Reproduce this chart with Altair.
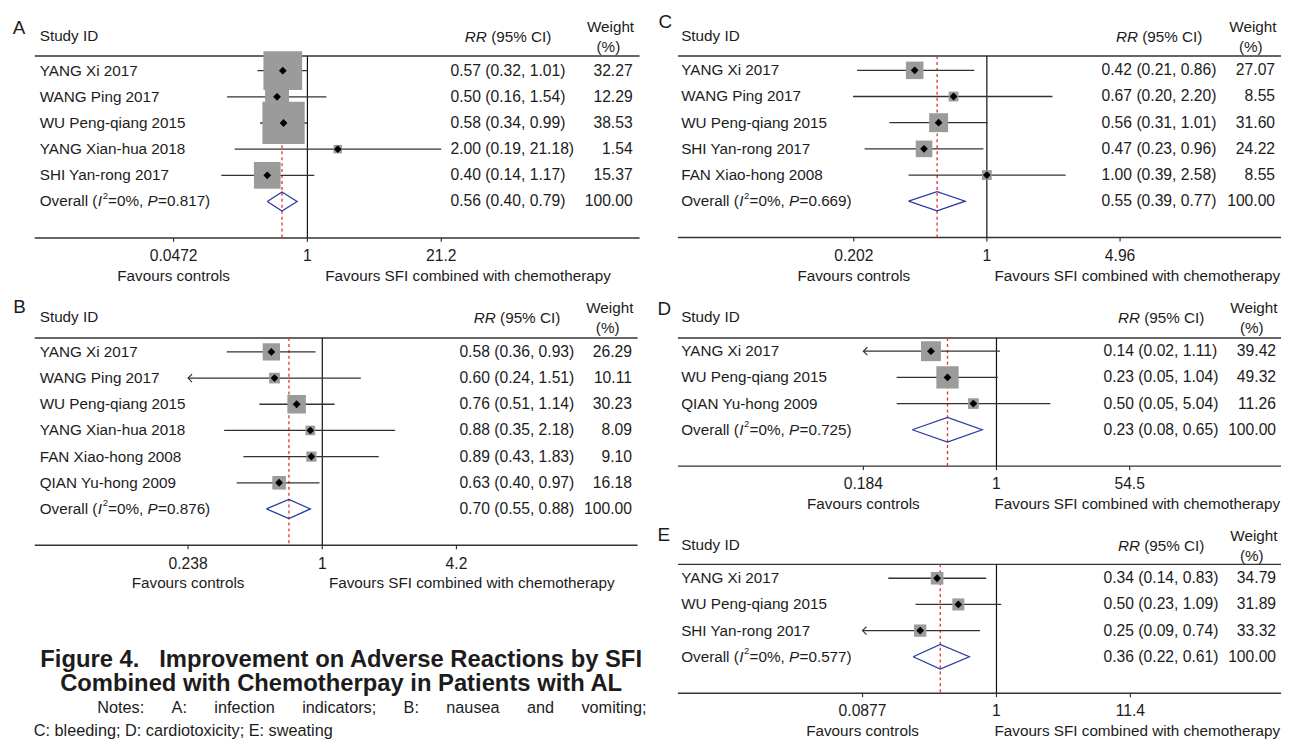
import math
import altair as alt
import pandas as pd

# ------------------------------------------------------------------ data
A_studies = ["YANG Xi 2017", "WANG Ping 2017", "WU Peng-qiang 2015", "YANG Xian-hua 2018", "SHI Yan-rong 2017"]
A_rr = [0.57, 0.50, 0.58, 2.00, 0.40]
A_lo = [0.32, 0.16, 0.34, 0.19, 0.14]
A_hi = [1.01, 1.54, 0.99, 21.18, 1.17]
A_weight = [32.27, 12.29, 38.53, 1.54, 15.37]
A_arrow = [False, False, False, False, False]
A_overall = [0.56, 0.40, 0.79]
A_p = "0.817"
A_ticks = [0.0472, 1, 21.2]
A_tick_labels = ["0.0472", "1", "21.2"]

B_studies = ["YANG Xi 2017", "WANG Ping 2017", "WU Peng-qiang 2015", "YANG Xian-hua 2018",
             "FAN Xiao-hong 2008", "QIAN Yu-hong 2009"]
B_rr = [0.58, 0.60, 0.76, 0.88, 0.89, 0.63]
B_lo = [0.36, 0.24, 0.51, 0.35, 0.43, 0.40]
B_hi = [0.93, 1.51, 1.14, 2.18, 1.83, 0.97]
B_weight = [26.29, 10.11, 30.23, 8.09, 9.10, 16.18]
B_arrow = [False, True, False, False, False, False]
B_overall = [0.70, 0.55, 0.88]
B_p = "0.876"
B_ticks = [0.238, 1, 4.2]
B_tick_labels = ["0.238", "1", "4.2"]

C_studies = ["YANG Xi 2017", "WANG Ping 2017", "WU Peng-qiang 2015", "SHI Yan-rong 2017", "FAN Xiao-hong 2008"]
C_rr = [0.42, 0.67, 0.56, 0.47, 1.00]
C_lo = [0.21, 0.20, 0.31, 0.23, 0.39]
C_hi = [0.86, 2.20, 1.01, 0.96, 2.58]
C_weight = [27.07, 8.55, 31.60, 24.22, 8.55]
C_arrow = [False, False, False, False, False]
C_overall = [0.55, 0.39, 0.77]
C_p = "0.669"
C_ticks = [0.202, 1, 4.96]
C_tick_labels = ["0.202", "1", "4.96"]

D_studies = ["YANG Xi 2017", "WU Peng-qiang 2015", "QIAN Yu-hong 2009"]
D_rr = [0.14, 0.23, 0.50]
D_lo = [0.02, 0.05, 0.05]
D_hi = [1.11, 1.04, 5.04]
D_weight = [39.42, 49.32, 11.26]
D_arrow = [True, False, False]
D_overall = [0.23, 0.08, 0.65]
D_p = "0.725"
D_ticks = [0.0184, 1, 54.5]
D_tick_labels = ["0.184", "1", "54.5"]

E_studies = ["YANG Xi 2017", "WU Peng-qiang 2015", "SHI Yan-rong 2017"]
E_rr = [0.34, 0.50, 0.25]
E_lo = [0.14, 0.23, 0.09]
E_hi = [0.83, 1.09, 0.74]
E_weight = [34.79, 31.89, 33.32]
E_arrow = [False, False, True]
E_overall = [0.36, 0.22, 0.61]
E_p = "0.577"
E_ticks = [0.0877, 1, 11.4]
E_tick_labels = ["0.0877", "1", "11.4"]

FAV_LEFT = "Favours controls"
FAV_RIGHT = "Favours SFI combined with chemotherapy"
CAPTION_1 = "Figure 4.\u00a0\u00a0\u00a0Improvement on Adverse Reactions by SFI"
CAPTION_2 = "Combined with Chemotherpay in Patients with AL"
NOTES_1 = "Notes: A: infection indicators; B: nausea and vomiting;"
NOTES_2 = "C: bleeding; D: cardiotoxicity; E: sweating"

# ------------------------------------------------------------------ style / layout
FONT = "Liberation Sans, Arial, Helvetica, sans-serif"
FS = 15.4      # names, headers
FSN = 15.8     # numeric columns
TXT = "#1c1c1c"
LINE = "#333333"
SQ = "#9b9b9b"
BLUE = "#2b3a9e"
RED = "#e3302b"
ROW_H = 26.4
ARROW_PATH = "M1,-1L0,0L1,1"

# page-space geometry of each panel (x0, y0, width, height) and its parts
GEOM = {
    "A": dict(box=(8, 8, 642, 280), X1=310, s=44.2, axL=35, axR=645, R0=68, studyY=33.3, topY=53.3,
              letter=(12.7, 25), nameX=40, valX=454.3, wtR=638, favR=328, k=6.87, diaH=19.3),
    "B": dict(box=(8, 288, 642, 307), X1=325, s=94.3, axL=35, axR=643, R0=351.7, studyY=316.7, topY=337.7,
              letter=(13.3, 306.7), nameX=40, valX=463.3, wtR=637.3, favR=331.7, k=3.4, diaH=19.3),
    "C": dict(box=(650, 8, 640, 280), X1=993.3, s=83.9, axL=681.7, axR=1290, R0=67.7, studyY=33.3, topY=53.3,
              letter=(662, 19), nameX=685, valX=1109, wtR=1284, favR=1001, k=3.4, diaH=19.3),
    "D": dict(box=(650, 288, 640, 230), X1=1003, s=33.6, axL=681.7, axR=1290, R0=351, studyY=316.7, topY=337.7,
              letter=(661, 308), nameX=685, valX=1111, wtR=1285, favR=1001, k=3.2, diaH=25),
    "E": dict(box=(650, 518, 640, 226), X1=1003, s=55.5, axL=681.7, axR=1290, R0=580, studyY=546.7, topY=566,
              letter=(661, 536.7), nameX=685, valX=1111, wtR=1285, favR=1001, k=2.15, diaH=25),
}

ARIAL = {' ': 278, '(': 333, ')': 333, '%': 889, ',': 278, '.': 278, '=': 584, ':': 278, ';': 278,
         'a': 556, 'b': 556, 'c': 500, 'd': 556, 'e': 556, 'f': 278, 'g': 556, 'h': 556, 'i': 222,
         'j': 222, 'k': 500, 'l': 222, 'm': 833, 'n': 556, 'o': 556, 'p': 556, 'q': 556, 'r': 333,
         's': 500, 't': 278, 'u': 556, 'v': 500, 'w': 722, 'x': 500, 'y': 500, 'z': 500,
         'A': 667, 'B': 667, 'C': 722, 'D': 722, 'E': 667, 'F': 611, 'I': 278, 'N': 722, 'O': 778,
         'P': 667, 'R': 722, 'S': 667, 'W': 944}


def tw(s, size=FS):
    return sum(ARIAL.get(c, 556) for c in s) * size / 1000.0


ONE = pd.DataFrame({"k": [0]})


def txt(text, x, y, align="left", size=FS, style="normal", weight="normal", dy=0, color=TXT, **kw):
    return alt.Chart(pd.DataFrame({"t": [text]})).mark_text(
        align=align, baseline="middle", fontSize=size, fontStyle=style, fontWeight=weight,
        font=FONT, color=color, dy=dy, **kw
    ).encode(x=alt.value(x), y=alt.value(y), text="t:N")


def panel(letter, studies, rr, lo, hi, weight, arrow, overall, p, ticks, tick_labels):
    g = GEOM[letter]
    x0, y0, Wd, Ht = g["box"]
    X1 = g["X1"] - x0
    s = g["s"]
    R0 = g["R0"] - y0
    n = len(studies)
    studyY = g["studyY"] - y0
    topY = g["topY"] - y0
    axisY = R0 + n * ROW_H + 36.7
    axL, axR = g["axL"] - x0, g["axR"] - x0
    nameX, valX, wtR, favR = g["nameX"] - x0, g["valX"] - x0, g["wtR"] - x0, g["favR"] - x0

    xs = alt.Scale(type="log", domain=[math.exp((0 - X1) / s), math.exp((Wd - X1) / s)], nice=False)
    ys = alt.Scale(domain=[(0 - R0) / ROW_H, (Ht - R0) / ROW_H], reverse=True, nice=False, zero=False)

    df = pd.DataFrame({"row": list(range(n)), "study": studies, "rr": rr, "lo": lo, "hi": hi,
                       "weight": weight, "arrow": arrow})
    df["lo_draw"] = [ticks[0] if a else l for a, l in zip(arrow, lo)]
    tab = pd.DataFrame({
        "row": list(range(n + 1)),
        "label": [f"{r:.2f} ({l:.2f}, {h:.2f})" for r, l, h in zip(rr + [overall[0]], lo + [overall[1]], hi + [overall[2]])],
        "wlabel": [f"{w:.2f}" for w in weight] + ["100.00"],
    })

    X = lambda f: alt.X(f, scale=xs, axis=None)
    Y = lambda f: alt.Y(f, scale=ys, axis=None)

    layers = []
    layers.append(alt.Chart(ONE).mark_rule(color=LINE, strokeWidth=1.5).encode(
        x=alt.value(axL), x2=alt.value(axR), y=alt.value(topY)))
    layers.append(alt.Chart(ONE).mark_rule(color=LINE, strokeWidth=1.5).encode(
        x=alt.value(axL), x2=alt.value(axR), y=alt.value(axisY)))
    layers.append(alt.Chart(pd.DataFrame({"v": [overall[0]]})).mark_rule(
        color=RED, strokeWidth=1.3, strokeDash=[3, 3]).encode(x=X("v:Q"), y=alt.value(topY), y2=alt.value(axisY)))
    layers.append(alt.Chart(pd.DataFrame({"v": [1.0]})).mark_rule(color="#111111", strokeWidth=1.2).encode(
        x=X("v:Q"), y=alt.value(topY), y2=alt.value(axisY)))
    tdf = pd.DataFrame({"v": ticks, "lab": tick_labels})
    layers.append(alt.Chart(tdf).mark_rule(color=LINE, strokeWidth=1.2).encode(
        x=X("v:Q"), y=alt.value(axisY), y2=alt.value(axisY + 4)))
    layers.append(alt.Chart(tdf).mark_text(font=FONT, fontSize=FSN, baseline="middle", align="center", color=TXT).encode(
        x=X("v:Q"), y=alt.value(axisY + 18.5), text="lab:N"))
    layers.append(alt.Chart(pd.DataFrame({"v": [ticks[0]], "t": [FAV_LEFT]})).mark_text(
        font=FONT, fontSize=FS, baseline="middle", align="center", color=TXT).encode(
        x=X("v:Q"), y=alt.value(axisY + 38.5), text="t:N"))
    layers.append(txt(FAV_RIGHT, favR, axisY + 38.5))
    base = alt.Chart(df)
    layers.append(base.mark_rule(color=LINE, strokeWidth=1.3).encode(x=X("lo_draw:Q"), x2="hi:Q", y=Y("row:Q")))
    if any(arrow):
        layers.append(alt.Chart(df[df["arrow"]]).mark_point(
            shape=ARROW_PATH, filled=False, color=LINE, strokeWidth=1.2, size=64, opacity=1).encode(
            x=X("lo_draw:Q"), y=Y("row:Q")))
    k = g["k"]
    layers.append(base.mark_point(shape="square", filled=True, color=SQ, opacity=1, strokeWidth=0).encode(
        x=X("rr:Q"), y=Y("row:Q"),
        size=alt.Size("weight:Q", scale=alt.Scale(domain=[0, 100], range=[0, 100 * k * k]), legend=None)))
    layers.append(base.mark_point(shape="diamond", filled=True, color="#000000", size=62, opacity=1).encode(
        x=X("rr:Q"), y=Y("row:Q")))
    hh = g["diaH"] / 2 / ROW_H
    dd = pd.DataFrame({"x": [overall[1], overall[0], overall[2], overall[0], overall[1]],
                       "row": [n, n - hh, n, n + hh, n], "o": [0, 1, 2, 3, 4]})
    layers.append(alt.Chart(dd).mark_line(color=BLUE, strokeWidth=1.3).encode(
        x=X("x:Q"), y=Y("row:Q"), order="o:Q"))
    layers.append(base.mark_text(font=FONT, fontSize=FS, align="left", baseline="middle", color=TXT).encode(
        x=alt.value(nameX), y=Y("row:Q"), text="study:N"))
    tb = alt.Chart(tab)
    layers.append(tb.mark_text(font=FONT, fontSize=FSN, align="left", baseline="middle", color=TXT).encode(
        x=alt.value(valX), y=Y("row:Q"), text="label:N"))
    layers.append(tb.mark_text(font=FONT, fontSize=FSN, align="right", baseline="middle", color=TXT).encode(
        x=alt.value(wtR), y=Y("row:Q"), text="wlabel:N"))
    odf = pd.DataFrame({"row": [n]})
    segs = []
    xx = nameX
    segs.append(("Overall (", xx, "normal", FS, 0))
    xx += tw("Overall (")
    segs.append(("I", xx + 0.3, "italic", FS, 0))
    xx += tw("I") + 1.0
    segs.append(("2", xx, "normal", FS * 0.62, -FS * 0.36))
    xx += tw("2", FS * 0.62) + 0.2
    segs.append(("=0%,", xx, "normal", FS, 0))
    xx += tw("=0%, ")
    segs.append(("P", xx, "italic", FS, 0))
    xx += tw("P") + 0.3
    segs.append(("=" + p + ")", xx, "normal", FS, 0))
    for t, sx, st, sz, dy in segs:
        layers.append(alt.Chart(odf.assign(t=t)).mark_text(
            font=FONT, fontSize=sz, fontStyle=st, align="left", baseline="middle", color=TXT, dy=dy).encode(
            x=alt.value(sx), y=Y("row:Q"), text="t:N"))
    layers.append(txt(letter, g["letter"][0] - x0, g["letter"][1] - y0, size=19))
    layers.append(txt("Study ID", nameX, studyY))
    rx = valX + 14.5
    layers.append(txt("RR", rx, studyY + 0.5, style="italic"))
    layers.append(txt("(95% CI)", rx + tw("RR "), studyY + 0.5))
    layers.append(txt("Weight", wtR + 1.5, studyY - 9.5, align="right"))
    layers.append(txt("(%)", wtR + 1.5 - tw("Weight") / 2 - 2, studyY + 10.5, align="center"))

    return alt.layer(*layers).properties(width=Wd, height=Ht)


pA = panel("A", A_studies, A_rr, A_lo, A_hi, A_weight, A_arrow, A_overall, A_p, A_ticks, A_tick_labels)
pB = panel("B", B_studies, B_rr, B_lo, B_hi, B_weight, B_arrow, B_overall, B_p, B_ticks, B_tick_labels)
pC = panel("C", C_studies, C_rr, C_lo, C_hi, C_weight, C_arrow, C_overall, C_p, C_ticks, C_tick_labels)
pD = panel("D", D_studies, D_rr, D_lo, D_hi, D_weight, D_arrow, D_overall, D_p, D_ticks, D_tick_labels)
pE = panel("E", E_studies, E_rr, E_lo, E_hi, E_weight, E_arrow, E_overall, E_p, E_ticks, E_tick_labels)

# caption block (page y 595 .. 744); the title is one two-line text, the notes line is justified
NOTE_FS = 16.4
cap_layers = [
    # invisible full-width guide so the left column occupies exactly its 642 px
    alt.Chart(ONE).mark_rule(strokeOpacity=0, strokeWidth=1).encode(
        x=alt.value(0), x2=alt.value(642), y=alt.value(1)),
    txt(CAPTION_1 + "\n" + CAPTION_2, 336, 68, align="center", size=24.0, weight="bold",
        lineBreak="\n", lineHeight=23.5),
    txt(NOTES_2, 26, 139, size=NOTE_FS),
]
words = NOTES_1.split(" ")
wsum = sum(tw(w_, NOTE_FS) for w_ in words)
gap = (554 - wsum) / (len(words) - 1)
xw = 90
for w_ in words:
    cap_layers.append(txt(w_, xw, 115.5, size=NOTE_FS))
    xw += tw(w_, NOTE_FS) + gap
cap = alt.layer(*cap_layers).properties(width=642, height=149)

left = alt.vconcat(pA, pB, cap, spacing=0, bounds="flush").resolve_scale(size="independent")
right = alt.vconcat(pC, pD, pE, spacing=0, bounds="flush").resolve_scale(size="independent")
chart = alt.hconcat(left, right, spacing=0).resolve_scale(size="independent").properties(padding=0).configure_view(
    stroke=None, fill=None)

chart.save("out.html", embed_options={"renderer": "svg", "actions": False})
